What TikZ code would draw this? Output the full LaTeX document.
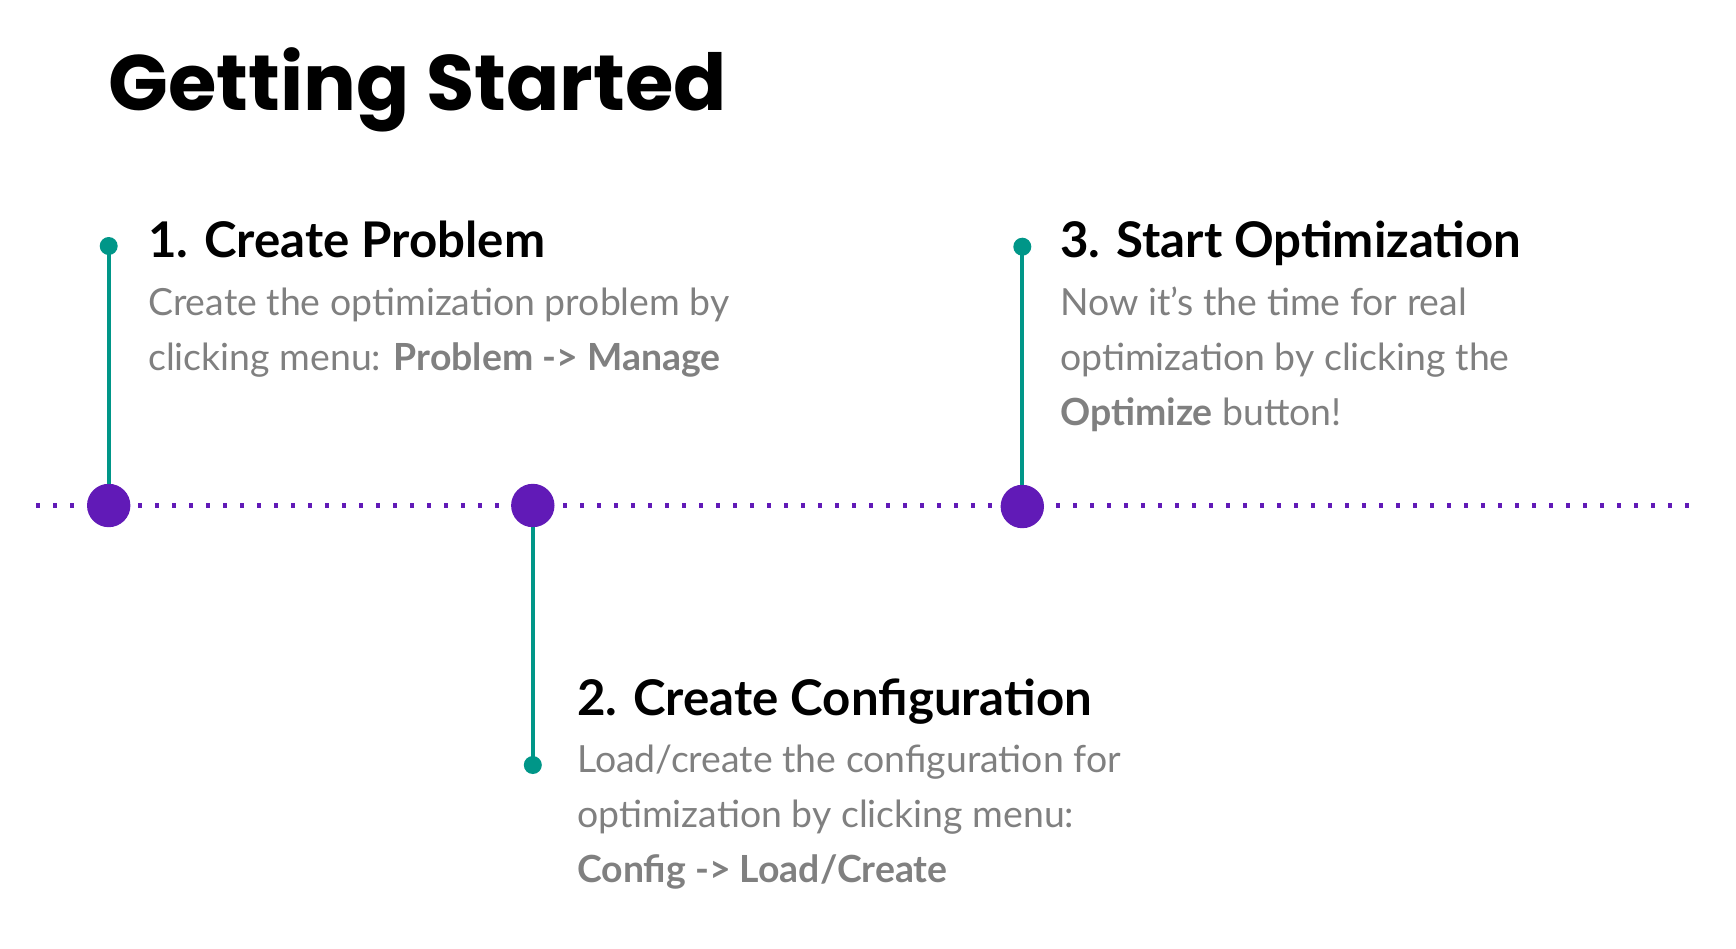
\documentclass[tikz,border=0pt]{standalone}
\usepackage{fontspec}
\setmainfont{Lato}
\newfontfamily\titlefont{Poppins}
\definecolor{tlpurple}{RGB}{97,26,183}
\definecolor{tlteal}{RGB}{0,150,136}
\definecolor{txtgray}{RGB}{128,128,128}
\tikzset{
  bigdot/.style={circle, fill=tlpurple, draw=none, inner sep=0pt, minimum size=43.4pt},
  smalldot/.style={circle, fill=tlteal, draw=none, inner sep=0pt, minimum size=18pt},
  stem/.style={draw=tlteal, line width=4pt},
  dotline/.style={draw=tlpurple, line width=4.3pt, dash pattern=on 4.3pt off 12.7pt},
  head/.style={anchor=base west, inner sep=0pt, font=\fontsize{49.2}{55}\selectfont\bfseries},
  bodytext/.style={anchor=base west, inner sep=0pt, text=txtgray, font=\fontsize{37.4}{55}\selectfont},
  titletext/.style={anchor=base west, inner sep=0pt, font=\titlefont\fontsize{78.5}{80}\selectfont\bfseries}
}
\begin{document}
\begin{tikzpicture}[x=1pt, y=-1pt]
\useasboundingbox (0,0) rectangle (1736,948);
% title
\node[titletext] (title) at (108,110) {Getting Started};
% timeline
\coordinate (L) at (36,505.5);
\coordinate (R) at (1690,505.5);
\draw[dotline] (L) -- (R);
% stems and markers
\node[smalldot] (d1) at (108.7,246) {};
\node[smalldot] (d2) at (532.8,765) {};
\node[smalldot] (d3) at (1022.3,246.7) {};
\node[bigdot] (c1) at (108.7,505.5) {};
\node[bigdot] (c2) at (532.8,505.5) {};
\node[bigdot] (c3) at (1022.3,506.5) {};
\draw[stem] (d1.center) -- (c1);
\draw[stem] (d2.center) -- (c2);
\draw[stem] (d3.center) -- (c3);
% step 1
\node[head] (h1) at (148,257) {1. Create Problem};
\node[bodytext] (b1a) at (148,315) {Create the optimization problem by};
\node[bodytext] (b1b) at (148,370) {clicking menu: \textbf{Problem -> Manage}};
% step 2
\node[head] (h2) at (577,715) {2. Create Configuration};
\node[bodytext] (b2a) at (577,772) {Load/create the configuration for};
\node[bodytext] (b2b) at (577,827) {optimization by clicking menu:};
\node[bodytext] (b2c) at (577,882) {\textbf{Config -> Load/Create}};
% step 3
\node[head] (h3) at (1060,257) {3. Start Optimization};
\node[bodytext] (b3a) at (1060,315) {Now it’s the time for real};
\node[bodytext] (b3b) at (1060,370) {optimization by clicking the};
\node[bodytext] (b3c) at (1060,425) {\textbf{Optimize} button!};
\end{tikzpicture}
\end{document}
